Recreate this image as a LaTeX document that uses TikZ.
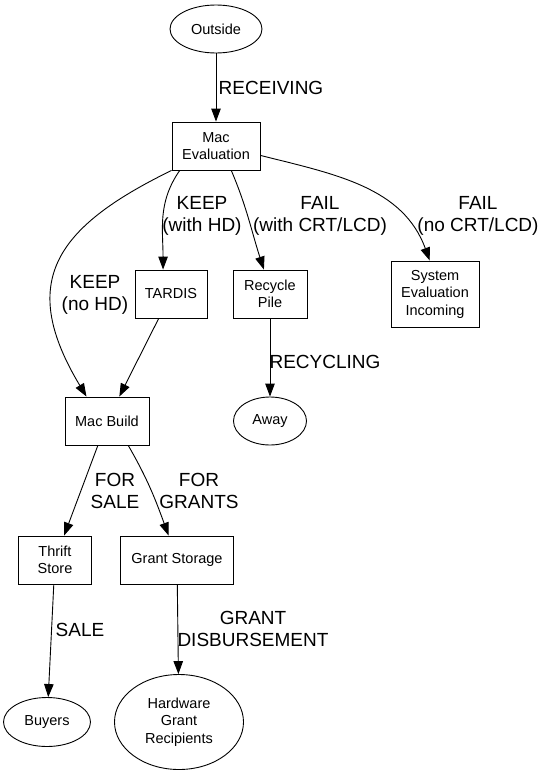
\documentclass[tikz,border=0pt]{standalone}
\usepackage{fontspec}
\setmainfont{Liberation Sans}
\usetikzlibrary{shapes.geometric,arrows.meta}

\begin{document}
\begin{tikzpicture}[x=1pt, y=1pt, line width=0.9pt,
    >={Triangle[length=13pt,width=9.5pt]},
    font=\fontsize{14.5}{17.5}\selectfont,
    box/.style={draw, rectangle, minimum height=48pt, inner sep=0pt, align=center},
    oval/.style={draw, ellipse, inner sep=0pt, align=center},
    lbl/.style={font=\fontsize{19}{22.5}\selectfont, align=center}]

\useasboundingbox (0,0) rectangle (543,-776);

\node[oval, minimum width=92pt, minimum height=48pt] (outside) at (216,-29) {Outside};
\node[box, minimum width=88pt]  (meval)   at (216,-146) {Mac\\Evaluation};
\node[box, minimum width=72pt]  (tardis)  at (171,-294) {TARDIS};
\node[box, minimum width=74pt]  (recycle) at (270,-294) {Recycle\\Pile};
\node[box, minimum width=88pt, minimum height=66pt]
    (syseval) at (435,-294) {System\\Evaluation\\Incoming};
\node[box, minimum width=84pt]  (mbuild)  at (107,-421) {Mac Build};
\node[oval, minimum width=73pt, minimum height=48pt] (away) at (270,-421) {Away};
\node[box, minimum width=73pt]  (thrift)  at (55,-560)  {Thrift\\Store};
\node[box, minimum width=113pt] (grant)   at (177,-560) {Grant Storage};
\node[oval, minimum width=87pt, minimum height=49pt] (buyers) at (47,-722) {Buyers};
\node[oval, minimum width=129pt, minimum height=95pt]
    (hardware) at (179,-722) {Hardware\\Grant\\Recipients};

\draw[->] (outside) -- (meval);
\draw[->] (meval.south west) to[out=206, in=121, looseness=1.4] (mbuild.130);
\draw[->] (meval.214) to[out=235, in=90] (tardis.108);
\draw[->] (meval.-58) to[out=-67, in=108] (recycle.104);
\draw[->] (meval.-12) to[out=-14, in=110] (syseval.99);
\draw[->] (tardis) -- (mbuild);
\draw[->] (recycle) -- (away);
\draw[->] (mbuild) -- (thrift);
\draw[->] (mbuild.-49) to[out=-60, in=110] (grant.109);
\draw[->] (thrift) -- (buyers);
\draw[->] (grant) -- (hardware);

\node[lbl] (lreceiving) at (271,-88)  {RECEIVING};
\node[lbl] (lkeephd)    at (202,-216) {KEEP\\(with HD)};
\node[lbl] (lfailcrt)   at (320,-216) {FAIL\\(with CRT/LCD)};
\node[lbl] (lfailno)    at (478,-216) {FAIL\\(no CRT/LCD)};
\node[lbl] (lkeepno)    at (95,-295)  {KEEP\\(no HD)};
\node[lbl] (lrecycling) at (325,-362) {RECYCLING};
\node[lbl] (lforsale)   at (115,-491) {FOR\\SALE};
\node[lbl] (lforgrants) at (199,-491) {FOR\\GRANTS};
\node[lbl] (lsale)      at (80,-630)  {SALE};
\node[lbl] (ldisb)      at (253,-629) {GRANT\\DISBURSEMENT};

\end{tikzpicture}
\end{document}
